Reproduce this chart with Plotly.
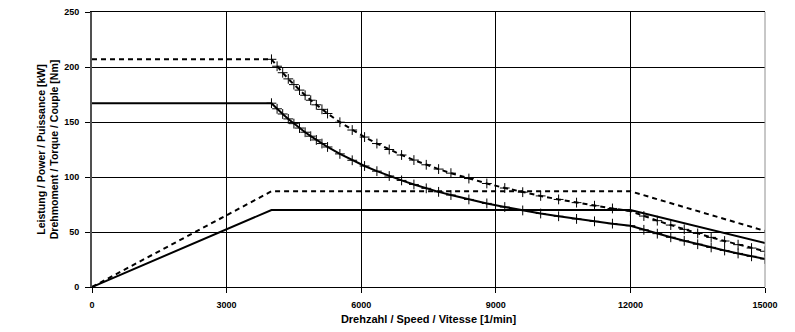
import plotly.graph_objects as go

# Speeds [1/min]
speed_flat = [0, 4000]
speed_curve = [4000, 4125, 4250, 4375, 4500, 4625, 4750, 4875, 5000, 5125, 5250,
               5525, 5800, 6075, 6350, 6625, 6900, 7175, 7450, 7725, 8000,
               8400, 8800, 9200, 9600, 10000, 10400, 10800, 11200, 11600, 12000,
               12300, 12600, 12900, 13200, 13500, 13800, 14100, 14400, 14700, 15000]

# Torque S1 (solid) [Nm]
torque_s1_flat = [167, 167]
torque_s1 = [167.1, 162.0, 157.3, 152.8, 148.5, 144.5, 140.7, 137.1, 133.7, 130.4, 127.3,
             121.0, 115.2, 110.0, 105.3, 100.9, 96.9, 93.2, 89.7, 86.5, 83.6,
             79.6, 76.0, 72.7, 69.6, 66.8, 64.3, 61.9, 59.7, 57.6, 55.7,
             52.0, 48.5, 45.2, 42.0, 38.9, 36.0, 33.2, 30.5, 27.9, 25.5]

# Torque S6 (dashed) [Nm]
torque_s6_flat = [207, 207]
torque_s6 = [207.0, 200.7, 194.8, 189.2, 184.0, 179.0, 174.3, 169.8, 165.6, 161.5, 157.7,
             149.8, 142.7, 136.3, 130.4, 125.0, 120.0, 115.4, 111.1, 107.2, 103.5,
             98.6, 94.1, 90.0, 86.2, 82.8, 79.6, 76.7, 73.9, 71.4, 69.0,
             64.5, 60.3, 56.3, 52.4, 48.7, 45.1, 41.8, 38.5, 35.4, 32.5]

# Power [kW]
speed_power = [0, 4000, 12000, 15000]
power_s1 = [0, 70, 70, 40]
power_s6 = [0, 87, 87, 51]

x_ticks = [0, 3000, 6000, 9000, 12000, 15000]
y_ticks = [0, 50, 100, 150, 200, 250]

DASH = "5px,4px"
fig = go.Figure()

def add(x, y, dash, markers=False):
    fig.add_trace(go.Scatter(
        x=x, y=y, mode="lines+markers" if markers else "lines",
        line=dict(color="black", width=2, dash=dash),
        marker=dict(symbol="cross-thin", size=7, line=dict(color="black", width=1)),
        showlegend=False, hoverinfo="skip"))

add(speed_power, power_s1, "solid")
add(speed_power, power_s6, DASH)
add(speed_flat, torque_s1_flat, "solid")
add(speed_flat, torque_s6_flat, DASH)
add(speed_curve, torque_s1, "solid", True)
add(speed_curve, torque_s6, DASH, True)

tick_font = dict(family="Liberation Sans, Arial, sans-serif", size=9, color="black")
xt_font = dict(family="Liberation Sans, Arial, sans-serif", size=11, color="black")
yt_font = dict(family="Liberation Sans, Arial, sans-serif", size=10.5, color="black")

fig.update_layout(
    width=795, height=332,
    margin=dict(l=92, r=30, t=12, b=45),
    paper_bgcolor="white", plot_bgcolor="white",
    font=tick_font,
    xaxis=dict(range=[0, 15000], tickvals=x_ticks, ticktext=[f"<b>{v}</b>" for v in x_ticks],
               showgrid=True, gridcolor="black", gridwidth=1,
               showline=True, linecolor="black", linewidth=1, mirror=True,
               ticks="outside", ticklen=5, tickcolor="black", zeroline=False,
               ticklabelstandoff=4, tickfont=tick_font, automargin=False,
               title=dict(text="<b>Drehzahl / Speed / Vitesse [1/min]</b>", font=xt_font, standoff=6)),
    yaxis=dict(range=[0, 250], tickvals=y_ticks, ticktext=[f"<b>{v}</b>" for v in y_ticks],
               showgrid=True, gridcolor="black", gridwidth=1,
               showline=True, linecolor="#505050", linewidth=2,
               ticks="outside", ticklen=5, tickcolor="black", zeroline=False,
               ticklabelstandoff=4, tickfont=tick_font, automargin=False,
               title=dict(text="<b>Leistung / Power / Puissance [kW]<br>Drehmoment / Torque / Couple [Nm]</b>",
                          font=yt_font, standoff=3)),
    shapes=[dict(type="line", xref="paper", yref="paper", x0=1, x1=1, y0=0, y1=1,
                 line=dict(color="#909090", width=1))],
)

fig.write_html("out.html")
